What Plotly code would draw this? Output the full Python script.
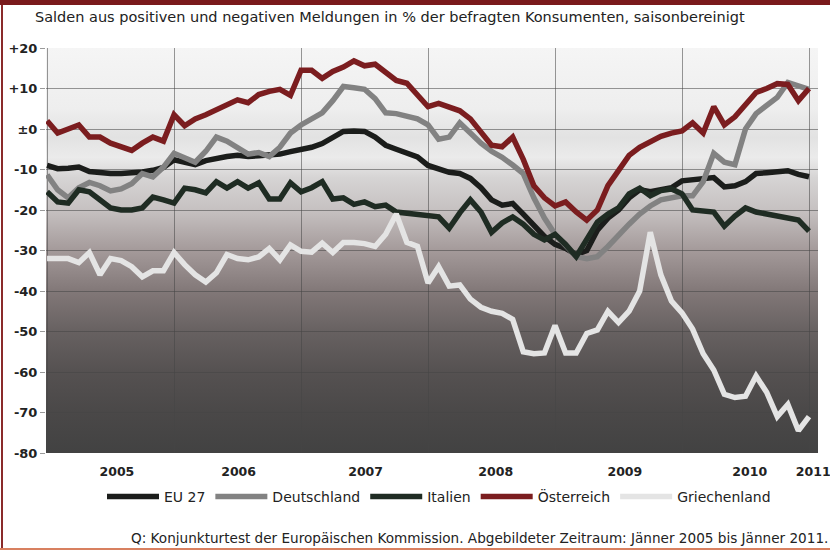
import base64
import plotly.graph_objects as go

# Monthly values, Jänner 2005 .. Jänner 2011 (73 months)
months = list(range(73))

eu27 = [-9, -9.8, -9.7, -9.4, -10.5, -10.9, -11, -11, -10.9, -10.6, -10.2, -9.5,
        -7.6, -8.2, -8.8, -7.8, -7.2, -6.8, -6.5, -6.8, -6.6, -6.4, -6.2, -5.6,
        -5.2, -4.5, -3.6, -2.2, -0.6, -0.5, -0.6, -2, -4, -5, -5.8, -6.9,
        -9, -10, -10.7, -11, -12.2, -14.5, -17.5, -18.8, -18.4, -21, -24, -26.5,
        -28.5, -29.5, -31, -30, -25, -22, -20, -17, -15, -15.5, -15, -14.5, -12.8, -12.5,
        -12.5, -12, -14.3, -14, -13, -11, -10.8, -10.5, -10.3, -11.2, -11.8]

deutschland = [-11.3, -15, -17, -14.5, -13.2, -14, -15.3, -14.8, -13.5, -11, -11.8, -9.4,
               -6, -7.2, -8.2, -5.5, -2, -3, -4.5, -6.2, -5.8, -6.8, -4.5, -1,
               1, 2.4, 4, 7, 10.5, 10.2, 9.8, 7.5, 4, 3.8, 3, 2.5,
               1, -2.5, -2, 1.5, -1, -3.5, -5.5, -7, -8.9, -11, -17, -22,
               -26, -29, -31.5, -32, -31.5, -29, -26, -23.5, -21, -19, -17.5, -17, -16.5, -16.5,
               -13, -6, -8.2, -8.8, 0, 3.8, 5.8, 7.8, 11.5, 10.5, 9.8]

italien = [-15.5, -18, -18.3, -15, -15.5, -17.5, -19.5, -20, -20, -19.5, -16.8, -17.5,
           -18.3, -14.6, -15, -15.8, -13, -14.6, -13, -14.6, -13.3, -17.3, -17.3, -13.3,
           -15.5, -14.5, -13, -17.3, -17, -18.6, -18, -19.2, -18.8, -20.5, -20.8, -21,
           -21.3, -21.7, -24.5, -20.7, -17.5, -20.5, -25.5, -23.2, -21.7, -23.5, -26, -27.4,
           -26, -28.5, -31.5, -27, -23, -21, -19.5, -16, -14.6, -16.5, -15.2, -14.8, -16, -20,
           -20.3, -20.5, -24, -21.5, -19.5, -20.5, -21, -21.5, -21.8, -22.5, -25.2]

oesterreich = [2, -1, 0, 1, -2, -2, -3.5, -4.5, -5.3, -3.5, -2, -3,
               3.5, 0.8, 2.5, 3.5, 4.8, 6, 7.2, 6.5, 8.5, 9.3, 9.8, 8.3,
               14.5, 14.5, 12.5, 14.2, 15.3, 16.8, 15.6, 16, 14, 12, 11.3, 8.5,
               5.5, 6.3, 5.5, 4.5, 2.5, -1, -4, -4.4, -2, -7.5, -14, -17,
               -19, -18, -20.5, -22.5, -20, -14, -10, -6.5, -4.5, -3, -1.8, -1, -0.5, 1.5,
               -1, 5.5, 1, 3, 6, 9, 10, 11.2, 11, 7, 10]

griechenland = [-32, -32, -32, -33, -30.5, -36, -32, -32.5, -34, -36.5, -35, -35,
                -30.5, -33.5, -36, -37.8, -35.5, -31, -32, -32.3, -31.6, -29.5, -32.3, -28.6,
                -30.2, -30.4, -28.2, -30.5, -28, -28, -28.3, -29, -26, -21, -28, -29,
                -38, -34, -38.8, -38.5, -42, -44, -45, -45.5, -47, -55, -55.5, -55.3,
                -48.5, -55.3, -55.3, -50.5, -49.6, -45, -47.8, -45, -40, -25.5, -36, -42.5, -45.4, -49.4,
                -55.5, -59.5, -65.5, -66.3, -66, -61, -65, -71, -68, -74.5, -71]

series_names = ["EU 27", "Deutschland", "Italien", "Österreich", "Griechenland"]
series_values = [eu27, deutschland, italien, oesterreich, griechenland]
series_colors = ["#1b1d1b", "#828282", "#1f2c23", "#7b1d1f", "#e4e4e4"]

year_labels = ["2005", "2006", "2007", "2008", "2009", "2010", "2011"]
year_label_pos = [6.6, 18.1, 30.1, 42.4, 54.6, 66.4, 72.4]
year_bounds = [0, 12, 24, 36, 48, 60, 72]

y_ticks = [-80, -70, -60, -50, -40, -30, -20, -10, 0, 10, 20]
y_ticktext = ["-80", "-70", "-60", "-50", "-40", "-30", "-20", "-10", "±0", "+10", "+20"]

title_text = "Salden aus positiven und negativen Meldungen in % der befragten Konsumenten, saisonbereinigt"
source_text = "Q: Konjunkturtest der Europäischen Kommission. Abgebildeter Zeitraum: Jänner 2005 bis Jänner 2011."

# ---- layout geometry (pixels) ----
W, H = 830, 550
L, R, T, B = 46, 12, 48, 97
PW, PH = W - L - R, H - T - B


def px_x(x):
    return (x - L) / PW


def px_y(y):
    return (H - B - y) / PH


# gradient background of plot area (SVG data URI)
stops = [(0.00, "#f5f5f5"), (0.15, "#eeeeee"), (0.22, "#e2e2e2"), (0.27, "#ebebeb"),
         (0.32, "#d6d4d4"), (0.40, "#c6c1c1"), (0.50, "#a49a9a"), (0.60, "#827878"),
         (0.70, "#676161"), (0.80, "#555151"), (0.90, "#4a4848"), (1.00, "#424242")]
stop_xml = "".join(f'<stop offset="{o}" stop-color="{c}"/>' for o, c in stops)
svg = ('<svg xmlns="http://www.w3.org/2000/svg" width="100" height="100" viewBox="0 0 100 100" '
       'preserveAspectRatio="none"><defs><linearGradient id="g" x1="0" y1="0" x2="0" y2="1">'
       + stop_xml + '</linearGradient></defs><rect width="100" height="100" fill="url(#g)"/></svg>')
svg_uri = "data:image/svg+xml;base64," + base64.b64encode(svg.encode()).decode()

fig = go.Figure()
for name, vals, col in zip(series_names, series_values, series_colors):
    fig.add_trace(go.Scatter(x=months, y=vals, mode="lines", name=name,
                             line=dict(color=col, width=5.5), hoverinfo="skip"))

font_main = "DejaVu Sans, Verdana, sans-serif"

fig.update_layout(
    width=W, height=H,
    margin=dict(l=L, r=R, t=T, b=B, pad=0),
    paper_bgcolor="white",
    plot_bgcolor="rgba(0,0,0,0)",
    showlegend=True,
    legend=dict(orientation="h", x=px_x(439), xanchor="center", y=px_y(497), yanchor="middle",
                font=dict(family=font_main, size=14, color="#222"),
                bgcolor="rgba(0,0,0,0)", itemwidth=52, tracegroupgap=0),
    xaxis=dict(range=[-0.1, 72.85], tickmode="array", tickvals=year_label_pos, ticktext=year_labels,
               showgrid=False, zeroline=False, showline=False, automargin=False,
               ticks="outside", ticklen=7, tickcolor="rgba(0,0,0,0)", ticklabeloverflow="allow",
               tickfont=dict(family=font_main, size=12.5, color="#222", weight="bold"),
               minor=dict(tickmode="array", tickvals=year_bounds, showgrid=True,
                          gridcolor="rgba(70,70,70,0.55)", gridwidth=1, ticks="")),
    yaxis=dict(range=[-80, 20], tickmode="array", tickvals=y_ticks, ticktext=y_ticktext,
               showgrid=True, gridcolor="rgba(70,70,70,0.55)", gridwidth=1,
               zeroline=False, showline=False, automargin=False,
               ticks="outside", ticklen=5, tickcolor="#9a9a9a", ticklabeloverflow="allow",
               tickfont=dict(family=font_main, size=13, color="#222", weight="bold")),
    images=[dict(source=svg_uri, xref="paper", yref="paper", x=0, y=1, sizex=1, sizey=1,
                 xanchor="left", yanchor="top", sizing="stretch", layer="below")],
    annotations=[
        dict(text=title_text, xref="paper", yref="paper", x=px_x(33), y=px_y(17),
             xanchor="left", yanchor="middle", showarrow=False,
             font=dict(family=font_main, size=14.5, color="#222")),
        dict(text=source_text, xref="paper", yref="paper", x=px_x(830), y=px_y(538),
             xanchor="right", yanchor="middle", showarrow=False,
             font=dict(family=font_main, size=13.6, color="#222")),
    ],
    shapes=[
        dict(type="rect", xref="paper", yref="paper", x0=px_x(0), x1=px_x(W), y0=px_y(5), y1=px_y(0),
             fillcolor="#7a1a1c", line=dict(width=0), layer="above"),
        dict(type="line", xref="paper", yref="paper", x0=px_x(2), x1=px_x(2), y0=px_y(5), y1=px_y(H),
             line=dict(color="#8a2a2a", width=2), layer="above"),
        dict(type="line", xref="paper", yref="paper", x0=px_x(0), x1=px_x(W), y0=px_y(549), y1=px_y(549),
             line=dict(color="#d88060", width=2), layer="above"),
    ],
)

fig.write_html("out.html", config={"displayModeBar": False},
               post_script="document.body.style.margin='0';document.body.style.overflow='hidden';")
